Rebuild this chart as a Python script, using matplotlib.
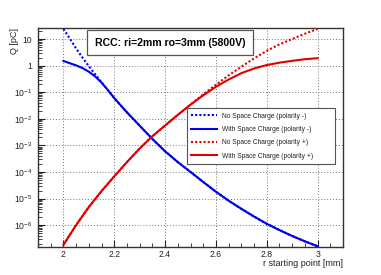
import matplotlib
matplotlib.use("Agg")
import matplotlib.pyplot as plt
from matplotlib.ticker import FixedLocator, FixedFormatter, LogLocator, MultipleLocator

plt.rcParams["font.family"] = ["Liberation Sans", "DejaVu Sans"]
plt.rcParams["mathtext.fontset"] = "custom"
plt.rcParams["mathtext.rm"] = "Liberation Sans"
plt.rcParams["mathtext.it"] = "Liberation Sans:italic"
plt.rcParams["mathtext.bf"] = "Liberation Sans:bold"

# r starting point [mm], finer near r=2 for the negative polarity
r_neg = [2.000, 2.025, 2.050, 2.075, 2.100, 2.125, 2.150, 2.175, 2.200, 2.250, 2.300,
         2.350, 2.400, 2.450, 2.500, 2.550, 2.600, 2.650, 2.700, 2.750, 2.800,
         2.850, 2.900, 2.950, 3.000]
r_pos = [2.00, 2.05, 2.10, 2.15, 2.20, 2.25, 2.30, 2.35, 2.40, 2.45, 2.50,
         2.55, 2.60, 2.65, 2.70, 2.75, 2.80, 2.85, 2.90, 2.95, 3.00]

# Q [pC]
q_nosc_neg = [24.0, 10.5, 4.4, 2.0, 0.95, 0.47, 0.234, 0.120, 0.060, 0.0174, 5.5e-3,
              1.74e-3, 6.0e-4, 2.35e-4, 1.0e-4, 4.2e-5, 1.8e-5, 8.3e-6, 4.1e-6, 2.1e-6, 1.12e-6,
              6.5e-7, 3.9e-7, 2.45e-7, 1.6e-7]
q_sc_neg = [1.5, 1.23, 1.02, 0.81, 0.59, 0.39, 0.229, 0.120, 0.060, 0.0174, 5.5e-3,
            1.74e-3, 6.0e-4, 2.35e-4, 1.0e-4, 4.2e-5, 1.8e-5, 8.3e-6, 4.1e-6, 2.1e-6, 1.12e-6,
            6.5e-7, 3.9e-7, 2.45e-7, 1.6e-7]
q_nosc_pos = [1.8e-7, 1.0e-6, 4.8e-6, 1.9e-5, 6.8e-5, 2.35e-4, 7.6e-4, 2.2e-3, 5.6e-3, 0.014, 0.034,
              0.083, 0.19, 0.43, 0.91, 1.86, 3.6, 6.3, 10.0, 15.8, 24.0]
q_sc_pos = [1.8e-7, 1.0e-6, 4.8e-6, 1.9e-5, 6.8e-5, 2.35e-4, 7.6e-4, 2.2e-3, 5.6e-3, 0.014, 0.034,
            0.076, 0.16, 0.30, 0.52, 0.78, 1.05, 1.29, 1.51, 1.74, 1.9]

labels = ["No Space Charge (polarity -)", "With Space Charge (polarity -)",
          "No Space Charge (polarity +)", "With Space Charge (polarity +)"]

x_ticks = [2.0, 2.2, 2.4, 2.6, 2.8, 3.0]
x_tick_labels = ["2", "2.2", "2.4", "2.6", "2.8", "3"]
y_ticks = [1e1, 1e0, 1e-1, 1e-2, 1e-3, 1e-4, 1e-5, 1e-6]
y_tick_labels = ["10", "1", r"$10^{-1}$", r"$10^{-2}$", r"$10^{-3}$",
                 r"$10^{-4}$", r"$10^{-5}$", r"$10^{-6}$"]

W, H = 381, 275
fig = plt.figure(figsize=(W / 100, H / 100), dpi=100)
ax = fig.add_axes([38 / W, 1 - 247 / H, 305 / W, 219 / H])

blue = "#0000f0"
red = "#e00000"
dots = (0, (1.0, 1.0))
ax.plot(r_neg, q_nosc_neg, color=blue, lw=1.5, ls=dots, label=labels[0], zorder=3)
ax.plot(r_neg, q_sc_neg, color=blue, lw=1.5, label=labels[1], zorder=4)
ax.plot(r_pos, q_nosc_pos, color=red, lw=1.5, ls=dots, label=labels[2], zorder=3)
ax.plot(r_pos, q_sc_pos, color=red, lw=1.5, label=labels[3], zorder=4)

ax.set_yscale("log")
ax.set_xlim(1.9, 3.1)
ax.set_ylim(1.5e-7, 26)

ax.xaxis.set_major_locator(FixedLocator(x_ticks))
ax.xaxis.set_major_formatter(FixedFormatter(x_tick_labels))
ax.xaxis.set_minor_locator(MultipleLocator(0.05))
ax.yaxis.set_major_locator(FixedLocator(y_ticks))
ax.yaxis.set_major_formatter(FixedFormatter(y_tick_labels))
ax.yaxis.set_minor_locator(LogLocator(base=10, subs=range(2, 10), numticks=20))
ax.yaxis.set_minor_formatter(FixedFormatter([]))

ax.tick_params(which="both", direction="in", top=False, right=False, labelsize=6.2,
               color="#222222", labelcolor="#222222")
ax.tick_params(which="major", length=5, width=0.8)
ax.tick_params(axis="y", which="major", pad=4)
ax.tick_params(axis="x", which="major", pad=2)
ax.tick_params(which="minor", length=3, width=0.6)

ax.grid(True, which="major", color="#777777", ls=(0, (1, 2)), lw=0.7)
for s in ax.spines.values():
    s.set_linewidth(1.0)
    s.set_color("#333333")

ax.set_xlabel("r starting point [mm]", fontsize=6.5, color="#222222")
ax.xaxis.set_label_coords(1.0, -0.056)
ax.xaxis.label.set_ha("right")
ax.xaxis.label.set_va("top")
ax.set_ylabel("Q [pC]", fontsize=6.5, color="#222222")
ax.yaxis.set_label_coords(-0.092, 1.0)
ax.yaxis.label.set_va("top")
ax.yaxis.label.set_ha("right")

leg = ax.legend(loc="upper left", bbox_to_anchor=(0.487, 0.633, 0.488, 0), mode="expand",
                fontsize=4.8, handlelength=3.9, handletextpad=0.8, labelspacing=0.95,
                borderpad=0.65, fancybox=False, framealpha=1, edgecolor="#555555",
                borderaxespad=0)
leg.get_frame().set_linewidth(0.8)
for t in leg.get_texts():
    t.set_color("#222222")

fig.text(170 / W, 1 - 42.5 / H, "RCC: ri=2mm ro=3mm (5800V)", fontsize=7.6, fontweight="bold",
         ha="center", va="center",
         bbox=dict(boxstyle="square,pad=0.7", fc="white", ec="#555555", lw=0.9))

fig.savefig("out.png", dpi=100)
